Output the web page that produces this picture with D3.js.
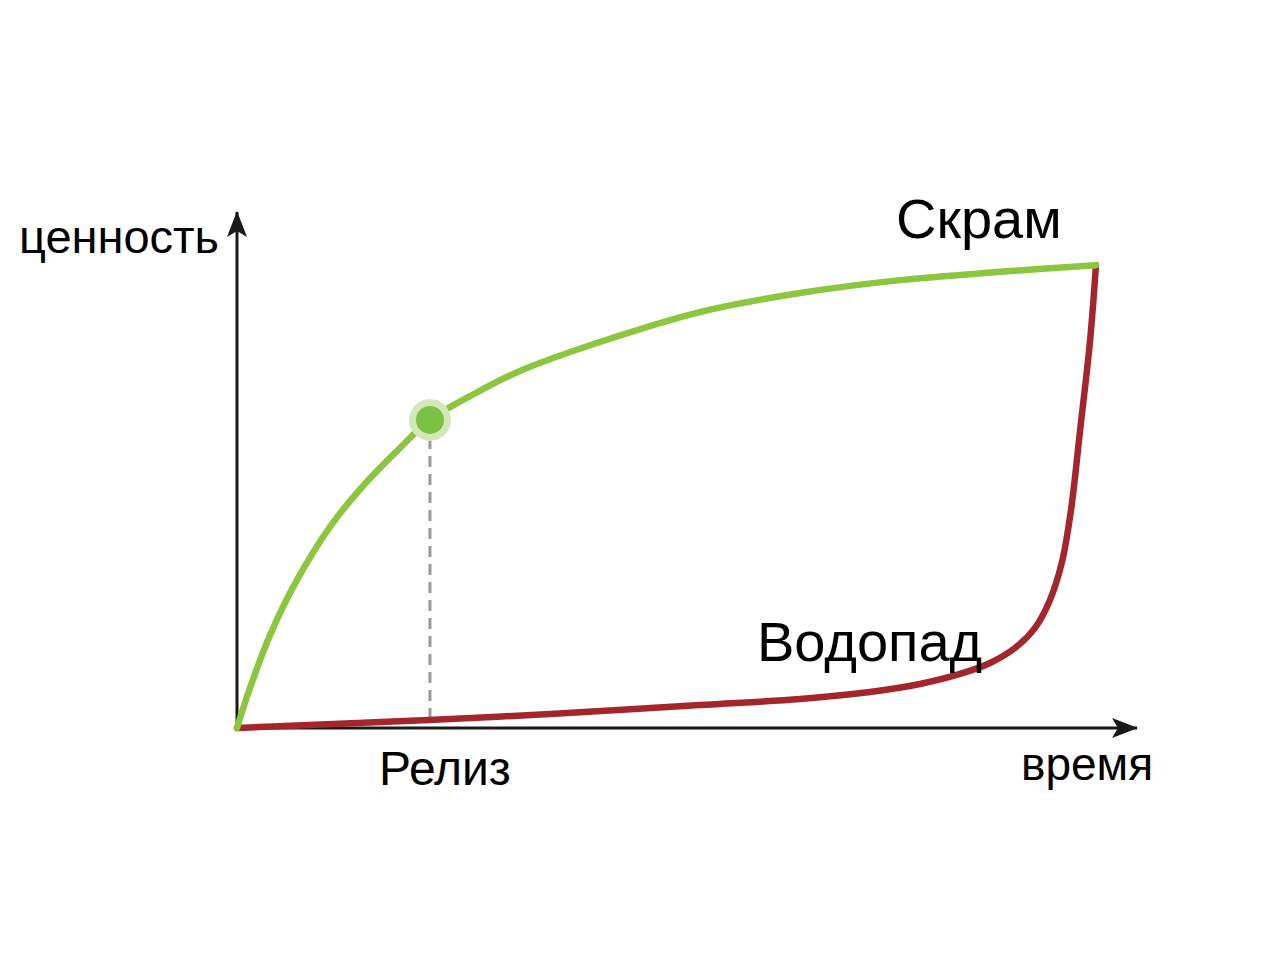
<!DOCTYPE html>
<html>
<head>
<meta charset="utf-8">
<script src="https://cdn.jsdelivr.net/npm/d3@7"></script>
<style>
html,body{margin:0;padding:0;background:#fff;}
svg{display:block;}
text{font-family:"Liberation Sans", Arial, Helvetica, sans-serif;fill:#000;}
</style>
</head>
<body>
<script>
// ---- data (time 0..100, value 0..100) ----
const scrumT = [0, 1.44, 3.67, 6.67, 10.33, 14.0, 17.78, 21.44, 25.89, 31.44, 40.33, 51.44, 62.56, 73.67, 84.78, 95.44];
const scrumV = [0, 7.75, 18.0, 28.7, 39.0, 46.9, 53.7, 59.7, 64.3, 69.2, 74.8, 80.6, 84.3, 86.8, 88.4, 89.7];
const waterT = [0, 21.33, 34.78, 51.44, 62.56, 70.33, 75.89, 80.33, 83.67, 86.44, 88.67, 90.33, 91.67, 92.67, 93.67, 94.78, 95.44];
const waterV = [0, 1.55, 2.71, 4.46, 5.62, 6.98, 8.53, 10.47, 12.6, 15.5, 19.4, 24.8, 32.2, 42.3, 57.6, 75.0, 89.7];
const releaseT = 21.44;
const releaseV = 59.7;
const yLabel = "ценность";
const xLabel = "время";
const releaseLabel = "Релиз";
const scrumLabel = "Скрам";
const waterLabel = "Водопад";

const W = 1280, H = 960;
const svg = d3.select("body").append("svg").attr("width", W).attr("height", H);

const x = d3.scaleLinear().domain([0, 100]).range([237, 1137]);
const y = d3.scaleLinear().domain([0, 100]).range([728, 212]);

const defs = svg.append("defs");
defs.append("marker").attr("id", "arrow")
  .attr("viewBox", "0 0 26 20").attr("refX", 25).attr("refY", 10)
  .attr("markerWidth", 26).attr("markerHeight", 20).attr("markerUnits", "userSpaceOnUse")
  .attr("orient", "auto")
  .append("path").attr("d", "M0,0 L26,10 L0,20 L6,10 Z").attr("fill", "#1a1a1a");

// axes
svg.append("line").attr("x1", x(0)).attr("y1", y(0) + 1.5).attr("x2", x(0)).attr("y2", y(100))
  .attr("stroke", "#1a1a1a").attr("stroke-width", 3).attr("marker-end", "url(#arrow)");
svg.append("line").attr("x1", x(0) - 1.5).attr("y1", y(0)).attr("x2", x(100)).attr("y2", y(0))
  .attr("stroke", "#1a1a1a").attr("stroke-width", 3).attr("marker-end", "url(#arrow)");

const line = d3.line().x(d => x(d[0])).y(d => y(d[1])).curve(d3.curveCatmullRom.alpha(0.5));

// release dashed line
svg.append("line").attr("x1", x(releaseT)).attr("x2", x(releaseT))
  .attr("y1", y(releaseV)).attr("y2", y(0) - 2)
  .attr("stroke", "#9a9a9a").attr("stroke-width", 3).attr("stroke-dasharray", "11,7");

// waterfall
svg.append("path").datum(waterT.map((t, i) => [t, waterV[i]]))
  .attr("d", line).attr("fill", "none").attr("stroke", "#a4262c").attr("stroke-width", 6.5)
  .attr("stroke-linecap", "round").attr("stroke-linejoin", "round");

// scrum
svg.append("path").datum(scrumT.map((t, i) => [t, scrumV[i]]))
  .attr("d", line).attr("fill", "none").attr("stroke", "#8cc63f").attr("stroke-width", 6.5)
  .attr("stroke-linecap", "round").attr("stroke-linejoin", "round");

// release dot
svg.append("circle").attr("cx", x(releaseT)).attr("cy", y(releaseV)).attr("r", 21).attr("fill", "#d3e8b8");
svg.append("circle").attr("cx", x(releaseT)).attr("cy", y(releaseV)).attr("r", 14).attr("fill", "#7cc242");

// labels
svg.append("text").attr("x", 19).attr("y", 253).attr("font-size", 47).text(yLabel);
svg.append("text").attr("x", 1021).attr("y", 780).attr("font-size", 46).text(xLabel);
svg.append("text").attr("x", 379).attr("y", 785).attr("font-size", 48).text(releaseLabel);
svg.append("text").attr("x", 896).attr("y", 238).attr("font-size", 56).text(scrumLabel);
svg.append("text").attr("x", 757).attr("y", 661).attr("font-size", 56).text(waterLabel);
</script>
</body>
</html>
